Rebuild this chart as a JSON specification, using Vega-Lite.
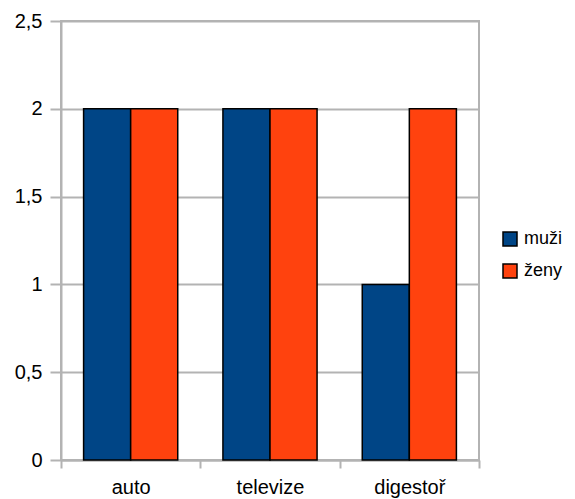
{
  "$schema": "https://vega.github.io/schema/vega-lite/v6.json",
  "width": 418,
  "height": 439,
  "autosize": {"type": "none"},
  "padding": {"left": 61, "top": 21, "right": 96, "bottom": 39},
  "background": "white",
  "config": {
    "font": "Liberation Sans",
    "view": {"stroke": "#b3b3b3", "strokeWidth": 2}
  },
  "data": {
    "values": [
      {"kategorie": "auto", "skupina": "muži", "hodnota": 2},
      {"kategorie": "auto", "skupina": "ženy", "hodnota": 2},
      {"kategorie": "televize", "skupina": "muži", "hodnota": 2},
      {"kategorie": "televize", "skupina": "ženy", "hodnota": 2},
      {"kategorie": "digestoř", "skupina": "muži", "hodnota": 1},
      {"kategorie": "digestoř", "skupina": "ženy", "hodnota": 2}
    ]
  },
  "mark": {"type": "bar", "stroke": "black", "strokeWidth": 1.5},
  "encoding": {
    "x": {
      "field": "kategorie",
      "type": "nominal",
      "sort": ["auto", "televize", "digestoř"],
      "scale": {"paddingInner": 0, "paddingOuter": 0},
      "axis": {
        "title": null,
        "labelAngle": 0,
        "labelFontSize": 20,
        "labelColor": "black",
        "labelPadding": 9,
        "tickBand": "extent",
        "tickColor": "#b3b3b3",
        "tickWidth": 2,
        "tickSize": 8,
        "domainColor": "#b3b3b3",
        "domainWidth": 2
      }
    },
    "xOffset": {"field": "skupina", "type": "nominal", "sort": ["muži", "ženy"], "scale": {"paddingInner": 0, "paddingOuter": 0.48}},
    "y": {
      "field": "hodnota",
      "type": "quantitative",
      "scale": {"domain": [0, 2.5]},
      "axis": {
        "title": null,
        "values": [0, 0.5, 1, 1.5, 2, 2.5],
        "labelExpr": "replace(format(datum.value, '~g'), '.', ',')",
        "labelFontSize": 20,
        "labelColor": "black",
        "labelPadding": 8,
        "tickColor": "#b3b3b3",
        "tickWidth": 2,
        "tickSize": 11,
        "domainColor": "#b3b3b3",
        "domainWidth": 2,
        "gridColor": "#b3b3b3",
        "gridWidth": 2
      }
    },
    "color": {
      "field": "skupina",
      "type": "nominal",
      "sort": ["muži", "ženy"],
      "scale": {"domain": ["muži", "ženy"], "range": ["#004586", "#ff420e"]},
      "legend": {
        "title": null,
        "orient": "none",
        "legendX": 440,
        "legendY": 209,
        "symbolType": "square",
        "symbolSize": 196,
        "symbolStrokeColor": "black",
        "symbolStrokeWidth": 1.5,
        "symbolOpacity": 1,
        "labelFontSize": 18,
        "labelColor": "black",
        "labelOffset": 5,
        "rowPadding": 12
      }
    }
  }
}
